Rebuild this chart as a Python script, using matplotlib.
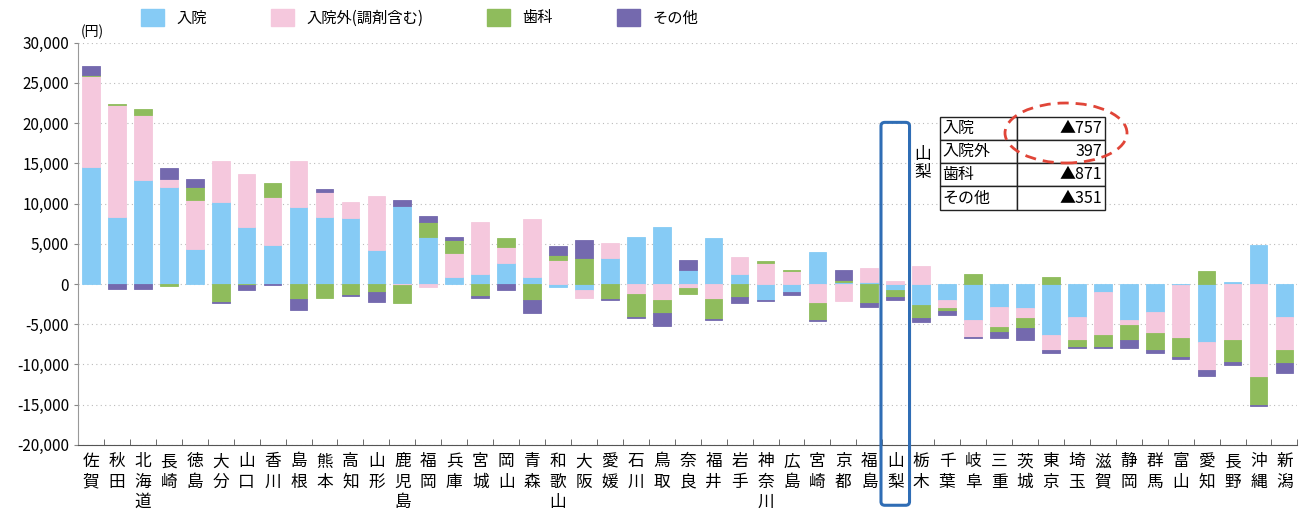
import numpy as np
import matplotlib
matplotlib.use("Agg")
import matplotlib.pyplot as plt
from matplotlib.patches import FancyBboxPatch, Ellipse, Patch
from matplotlib.ticker import FuncFormatter, MultipleLocator

plt.rcParams['font.family'] = ['Noto Sans CJK JP', 'DejaVu Sans']

# 都道府県（並び順は図のまま）
prefs = ["佐賀", "秋田", "北海道", "長崎", "徳島", "大分", "山口", "香川", "島根", "熊本",
         "高知", "山形", "鹿児島", "福岡", "兵庫", "宮城", "岡山", "青森", "和歌山", "大阪",
         "愛媛", "石川", "鳥取", "奈良", "福井", "岩手", "神奈川", "広島", "宮崎", "京都",
         "福島", "山梨", "栃木", "千葉", "岐阜", "三重", "茨城", "東京", "埼玉", "滋賀",
         "静岡", "群馬", "富山", "愛知", "長野", "沖縄", "新潟"]

# 差額（円）
nyuin = [14600, 8300, 12900, 12100, 4400, 10200, 7100, 4850, 9600, 8300,
         8200, 4200, 9700, 5800, 900, 1300, 2600, 900, -400, -800,
         3200, 5800, 7100, 1800, 5700, 1300, -2000, -1000, 4000, 200,
         200, -757, -2600, -2000, -4500, -2800, -3000, -6300, -4100, -1000,
         -4500, -3500, -100, -7200, 300, 4800, -4100]
gairai = [11300, 14000, 8100, 900, 6000, 5100, 6600, 5950, 5700, 3100,
          2000, 6700, -100, -400, 2900, 6400, 2000, 7200, 3000, -900,
          1900, -1200, -2000, -500, -1800, 2100, 2600, 1600, -2400, -2100,
          1800, 397, 2200, -1000, -2100, -2500, -1200, -1900, -2900, -5300,
          -600, -2600, -6600, -3500, -7000, -11600, -4100]
shika = [100, 100, 800, -200, 1700, -2200, -100, 1800, -1800, -1700,
         -1400, -1000, -2200, 1900, 1700, -1500, 1100, -2000, 600, 3200,
         -1900, -2900, -1600, -700, -2500, -1600, 300, 200, -2100, 300,
         -2300, -871, -1600, -300, 1300, -700, -1300, 900, -800, -1500,
         -1900, -2100, -2400, 1600, -2700, -3400, -1600]
sonota = [1100, -600, -600, 1400, 1000, -100, -600, -100, -1400, 400,
          -100, -1200, 700, 800, 300, -200, -800, -1600, 1100, 2300,
          -100, -100, -1600, 1200, -200, -800, -100, -400, -100, 1300,
          -600, -351, -500, -500, -100, -700, -1500, -400, -200, -200,
          -1000, -400, -200, -700, -400, -100, -1300]

series = [("入院", nyuin, "#86CBF5"),
          ("入院外(調剤含む)", gairai, "#F5C8DD"),
          ("歯科", shika, "#8FBC5C"),
          ("その他", sonota, "#7469AE")]

table_rows = [["入院", "▲757"], ["入院外", "397"], ["歯科", "▲871"], ["その他", "▲351"]]

fig = plt.figure(figsize=(13, 5.21), dpi=100)
ax = fig.add_axes([0.060, 0.146, 0.938, 0.772])

x = np.arange(len(prefs))
pos_bottom = np.zeros(len(prefs))
neg_bottom = np.zeros(len(prefs))
for name, vals, col in series:
    v = np.array(vals, dtype=float)
    bottom = np.where(v >= 0, pos_bottom, neg_bottom)
    ax.bar(x, v, 0.68, bottom=bottom, color=col, edgecolor=col, linewidth=0.6, zorder=3)
    pos_bottom += np.where(v >= 0, v, 0)
    neg_bottom += np.where(v < 0, v, 0)

ax.set_xlim(-0.5, len(prefs) - 0.5)
ax.set_ylim(-20000, 30000)
ax.yaxis.set_major_locator(MultipleLocator(5000))
ax.yaxis.set_major_formatter(FuncFormatter(lambda v, p: f"{int(v):,}"))
ax.grid(axis="y", color="#BBBBBB", linestyle=(0, (1, 3)), linewidth=0.8, zorder=0)
ax.tick_params(axis="y", labelsize=11, length=3, color="#888888")

ax.set_xticks(x)
ax.set_xticklabels(["\n".join(p) for p in prefs], fontsize=12, linespacing=1.25, va="top")
ax.set_xticks(np.arange(-0.5, len(prefs)), minor=True)
ax.tick_params(axis="x", which="major", length=0, pad=6)
ax.tick_params(axis="x", which="minor", length=4, direction="in", color="#555555")

for s in ["top", "right"]:
    ax.spines[s].set_visible(False)
ax.spines["left"].set_color("#999999")
ax.spines["bottom"].set_color("#555555")

ax.text(-0.4, 30400, "(円)", fontsize=10, ha="left", va="bottom")

# 凡例
handles = [Patch(facecolor=c, edgecolor=c, label=n) for n, _, c in series]
fig.legend(handles=handles, loc="upper left", bbox_to_anchor=(0.098, 1.01), ncol=4,
           frameon=False, fontsize=11, handlelength=1.5, handleheight=1.4,
           columnspacing=4.2, handletextpad=0.8)

# 山梨の強調枠
i = prefs.index("山梨")
box = FancyBboxPatch((i - 0.55, -27500), 1.1, 47600,
                     boxstyle="round,pad=0,rounding_size=0.15",
                     fill=False, edgecolor="#2F6DB5", linewidth=2.2,
                     clip_on=False, zorder=5, mutation_aspect=3000)
ax.add_patch(box)

ax.text(i + 1.05, 15000, "山\n梨", fontsize=12, ha="center", va="center", linespacing=1.1)

tbl = ax.table(cellText=table_rows, colWidths=[0.467, 0.533],
               bbox=[0.707, 0.585, 0.135, 0.231], zorder=6)
tbl.auto_set_font_size(False)
for (r, c), cell in tbl.get_celld().items():
    cell.set_edgecolor("#222222")
    cell.set_linewidth(1.0)
    cell.set_facecolor("white")
    cell.get_text().set_fontsize(11.5)
    cell.PAD = 0.03
    cell.get_text().set_ha("left" if c == 0 else "right")

ell = Ellipse((1066 / 1300, 1 - 133 / 521), 122 / 1300, 60 / 521,
              transform=fig.transFigure, fill=False, edgecolor="#E04538",
              linestyle=(0, (4, 2.5)), linewidth=2.0, zorder=10)
fig.patches.append(ell)

fig.savefig("out.png", dpi=100)
